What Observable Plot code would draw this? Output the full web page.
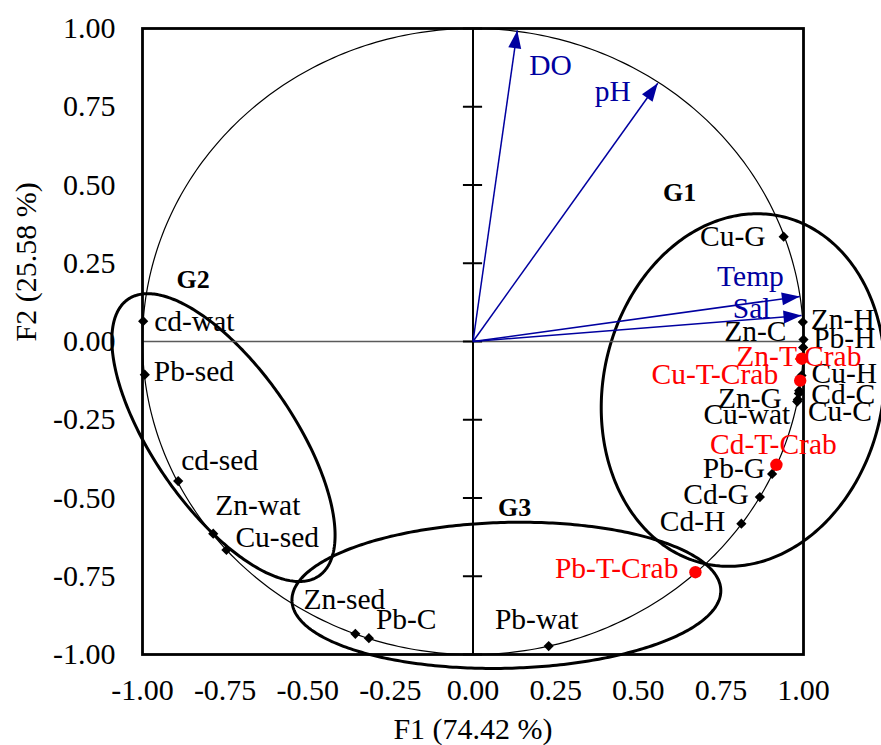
<!DOCTYPE html>
<html><head><meta charset="utf-8">
<script src="https://cdn.jsdelivr.net/npm/d3@7"></script>
<script src="https://cdn.jsdelivr.net/npm/@observablehq/plot@0.6"></script>
<style>body{margin:0;background:#fff} #chart svg{display:block}</style>
</head><body><div id="chart"></div>
<script>
// ---------- data ----------
const axisTicks = [-1, -0.75, -0.5, -0.25, 0, 0.25, 0.5, 0.75, 1];
const xTitle = "F1 (74.42 %)";
const yTitle = "F2 (25.58 %)";

const obsNames = ["Cu-G","Zn-H","Zn-C","Pb-H","Cu-H","Cd-C","Zn-G","Cu-C","Cu-wat","Pb-G","Cd-G","Cd-H","Pb-wat","Pb-C","Zn-sed","Cu-sed","Zn-wat","cd-sed","Pb-sed","cd-wat"];
const obsF1 = [0.940, 0.998, 1.000, 0.999, 0.994, 0.987, 0.986, 0.983, 0.981, 0.905, 0.868, 0.812, 0.229, -0.315, -0.356, -0.746, -0.786, -0.892, -0.993, -0.998];
const obsF2 = [0.335, 0.062, 0.006, -0.019, -0.109, -0.157, -0.166, -0.185, -0.192, -0.423, -0.497, -0.582, -0.973, -0.948, -0.934, -0.666, -0.614, -0.446, -0.106, 0.065];

const crabNames = ["Zn-T-Crab","Cu-T-Crab","Cd-T-Crab","Pb-T-Crab"];
const crabF1 = [0.995, 0.990, 0.918, 0.673];
const crabF2 = [-0.055, -0.125, -0.394, -0.737];

const vecNames = ["DO","pH","Temp","Sal"];
const vecF1 = [0.134, 0.559, 0.989, 0.994];
const vecF2 = [0.994, 0.825, 0.144, 0.083];

const groupNames = ["G1","G2","G3"];
const groupLabelF1 = [0.625, -0.847, 0.126];
const groupLabelF2 = [0.476, 0.198, -0.530];
const groupCx = [0.817, -0.755, 0.101];
const groupCy = [-0.155, -0.307, -0.811];
const groupA = [0.424, 0.528, 0.649];
const groupB = [0.567, 0.216, 0.233];
const groupAngle = [-10, -57.4, 1.5];

// ---------- label layout (pixel offsets) ----------
const obsLabelLayout = [
  ["end",-18,0],["start",8,-3],["end",-17,-8],["start",10,-9],["start",10,-2],
  ["start",12,4],["end",-17,5],["start",10,12],["end",-7,13],["end",-7,-5],
  ["end",-11,-3],["end",-16,-2],["middle",-12,-27],["start",7,-19],["middle",-11,-34],
  ["start",9,-12],["start",2,-28],["start",3,-21],["start",9,-3],["start",11,0]
];
const crabLabelLayout = [["middle",-3,-2],["end",-22,-6],["middle",-3,-20],["end",-17,-4]];
const vecLabelLayout = [["start",12,35],["end",-27,8],["end",-16,-19.5],["end",-31,-7]];

// ---------- styling ----------
const FONT = "'Liberation Serif', 'Times New Roman', serif";
const BLUE = "#0000A0";
const RED = "#FF0000";
const LABEL_SIZE = 29.5;
const TICK_SIZE = 30;
const W = 881, H = 745, ML = 142, MR = 78, MT = 28, MB = 91;
const ASPECT = (W - ML - MR) / (H - MT - MB); // px per x-unit / px per y-unit
const TICK_HALF = 0.029;

// ---------- derived tables ----------
const obs = obsNames.map((n, i) => ({name: n, x: obsF1[i], y: obsF2[i], lay: obsLabelLayout[i]}));
const crabs = crabNames.map((n, i) => ({name: n, x: crabF1[i], y: crabF2[i], lay: crabLabelLayout[i]}));
const vecs = vecNames.map((n, i) => ({name: n, x: vecF1[i], y: vecF2[i], lay: vecLabelLayout[i],
  rot: Math.atan2(vecF1[i] * ASPECT, vecF2[i]) * 180 / Math.PI}));

const steps = d3.range(0, 361, 1).map(d => d * Math.PI / 180);
const circle = steps.map(t => ({x: Math.cos(t), y: Math.sin(t)}));
const ellipses = [];
groupNames.forEach((g, i) => {
  const phi = groupAngle[i] * Math.PI / 180;
  steps.forEach(t => {
    const ex = groupA[i] * Math.cos(t), ey = groupB[i] * Math.sin(t);
    ellipses.push({g, x: groupCx[i] + ex * Math.cos(phi) - ey * Math.sin(phi),
                      y: groupCy[i] + ex * Math.sin(phi) + ey * Math.cos(phi)});
  });
});
const groupLabels = groupNames.map((g, i) => ({g, x: groupLabelF1[i], y: groupLabelF2[i]}));

const arrowHead = {
  draw(context) {
    const l = 18, w = 6.5;
    context.moveTo(0, 0);
    context.lineTo(-w, l);
    context.lineTo(w, l);
    context.closePath();
  }
};

const labelMarks = (rows, color) => rows.map(r => Plot.text([r], {
  x: "x", y: "y", text: "name", textAnchor: r.lay[0], dx: r.lay[1], dy: r.lay[2],
  fill: color, fontSize: LABEL_SIZE, fontFamily: FONT, lineAnchor: "middle"
}));

const chart = Plot.plot({
  width: W, height: H,
  marginLeft: ML, marginRight: MR, marginTop: MT, marginBottom: MB,
  x: {domain: [-1, 1]},
  y: {domain: [-1, 1]},
  style: {fontFamily: FONT, fontSize: TICK_SIZE + "px", color: "black", background: "white", overflow: "visible"},
  marks: [
    Plot.line(circle, {x: "x", y: "y", stroke: "black", strokeWidth: 1.2}),
    Plot.line(ellipses, {x: "x", y: "y", z: "g", stroke: "black", strokeWidth: 3}),
    Plot.ruleY([0], {stroke: "#5a5a5a", strokeWidth: 1.6}),
    Plot.ruleX([0], {stroke: "black", strokeWidth: 2}),
    Plot.ruleY(axisTicks, {x1: -TICK_HALF, x2: TICK_HALF, stroke: "black", strokeWidth: 2}),
    Plot.frame({stroke: "black", strokeWidth: 2.8}),
    Plot.axisX(axisTicks, {tickSize: 0, tickPadding: 24, tickFormat: d => d.toFixed(2), fontSize: TICK_SIZE, label: null}),
    Plot.axisY(axisTicks, {tickSize: 0, tickPadding: 27, tickFormat: d => d.toFixed(2), fontSize: TICK_SIZE, label: null}),
    Plot.text([xTitle], {frameAnchor: "bottom", text: d => d, dy: 75, fontSize: TICK_SIZE, lineAnchor: "middle"}),
    Plot.text([yTitle], {frameAnchor: "left", text: d => d, dx: -116, rotate: -90, fontSize: TICK_SIZE, lineAnchor: "middle"}),
    Plot.link(vecs, {x1: () => 0, y1: () => 0, x2: "x", y2: "y", stroke: BLUE, strokeWidth: 1.5}),
    Plot.dot(vecs, {x: "x", y: "y", symbol: arrowHead, rotate: "rot", fill: BLUE, stroke: "none"}),
    Plot.dot(obs, {x: "x", y: "y", symbol: "diamond2", r: 4.6, fill: "black", stroke: "none"}),
    Plot.dot(crabs, {x: "x", y: "y", r: 6.2, fill: RED, stroke: "none"}),
    ...labelMarks(obs, "black"),
    ...labelMarks(crabs, RED),
    ...labelMarks(vecs, BLUE),
    Plot.text(groupLabels, {x: "x", y: "y", text: "g", fontSize: 26, fontWeight: "bold", fontFamily: FONT, lineAnchor: "middle"})
  ]
});
document.getElementById("chart").appendChild(chart);
</script>
</body></html>
